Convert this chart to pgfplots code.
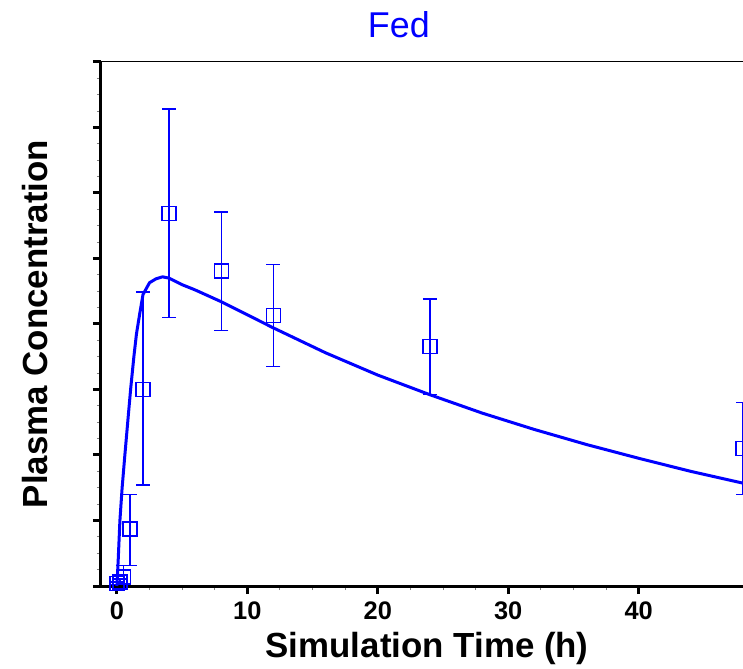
\documentclass[border=0pt]{standalone}
\usepackage{pgfplots}
\pgfplotsset{compat=1.18}
\usepackage{pgfplotstable}
\usepackage{fontspec}
\setmainfont{Liberation Sans}
\definecolor{pkblue}{RGB}{0,0,255}
\pgfplotstableread{
t y
0 0
0.1 0.4
0.23 1.0
0.4 1.5
0.61 2.0
0.85 2.55
1.05 3.0
1.3 3.5
1.5 3.85
1.76 4.17
2.0 4.45
2.5 4.63
3.0 4.69
3.5 4.72
4 4.70
5 4.60
6 4.52
8 4.34
10 4.14
12 3.94
16 3.56
20 3.22
24 2.92
28 2.64
32 2.39
36 2.16
40 1.95
44 1.75
48 1.57
}\simdata
\pgfplotstableread{
t y ep em
0 0.04 0.02 0.02
0.25 0.06 0.05 0.04
0.5 0.14 0.17 0.12
1 0.87 0.53 0.56
2 3.0 1.49 1.46
4 5.69 1.59 1.59
8 4.81 0.90 0.91
12 4.13 0.78 0.78
24 3.66 0.72 0.74
48 2.10 0.70 0.70
}\obsdata
\begin{document}
\begin{tikzpicture}
\begin{axis}[
 scale only axis, width=642bp, height=524bp,
 xmin=-1.22, xmax=48, ymin=0, ymax=8,
 axis x line*=bottom, axis y line*=left,
 axis line style={line width=3bp, -},
 xtick={0,10,20,30,40}, ytick={0,...,8}, yticklabels={},
 minor x tick num=3, minor y tick num=3,
 tick align=outside,
 major tick length=8bp, minor tick length=4bp,
 major tick style={black, line width=3bp},
 minor tick style={gray, line width=1bp},
 tick label style={font=\fontsize{25.5}{28}\selectfont\bfseries},
 xticklabel style={yshift=-4bp},
 /pgf/number format/assume math mode=true,
 title={Fed},
 title style={at={(axis description cs:0.464,1.0477)}, anchor=base, yshift=-6bp, font=\fontsize{36}{40}\selectfont, text=pkblue, inner sep=0pt},
 xlabel={Simulation Time (h)},
 xlabel style={at={(axis description cs:0.508,-0.1355)}, anchor=base, font=\fontsize{35}{40}\selectfont\bfseries, inner sep=0pt},
 ylabel={Plasma Concentration},
 ylabel style={at={(axis description cs:-0.0841,0.5)}, anchor=base, font=\fontsize{35}{40}\selectfont\bfseries, inner sep=0pt},
]
\coordinate (O) at (rel axis cs:0,0);
\draw[line width=1bp] (rel axis cs:0,1) -- (rel axis cs:1,1);
\addplot[pkblue, line width=3bp, no markers] table[x=t,y=y] {\simdata};
\addplot[pkblue, line width=1.5bp, only marks, mark=square, mark size=7bp,
  mark options={line width=1.5bp, fill=none},
  error bars/.cd, y dir=both, y explicit,
  error mark=|,
  error bar style={line width=1.5bp, pkblue},
  error mark options={/tikz/mark size=7bp, line width=1.5bp, pkblue}]
  table[x=t, y=y, y error plus=ep, y error minus=em] {\obsdata};
\end{axis}
\pgfresetboundingbox
\path ([shift={(-101bp,-83bp)}]O) rectangle ++(743bp,669bp);
\end{tikzpicture}
\end{document}
